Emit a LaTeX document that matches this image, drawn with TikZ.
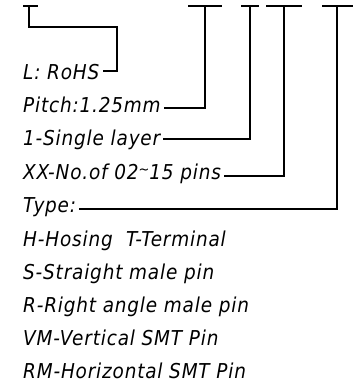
\documentclass[tikz,border=0pt]{standalone}
\usepackage{fontspec}
\setmainfont{DejaVu Sans}
\newfontfamily\isofont{DejaVu Sans Condensed Oblique}[LetterSpace=4]
\newcommand{\pnfont}{\isofont\fontsize{20.5}{21}\selectfont}
\newcommand{\pntilde}{\raisebox{5pt}{\scalebox{0.7}{\textasciitilde}}}
\tikzset{
    pn mark/.style={line width=1.3pt},
    pn lead/.style={line width=1.1pt, line join=miter},
    pn text/.style={anchor=base west, inner sep=0pt, font=\pnfont},
}

\begin{document}
\begin{tikzpicture}[x=1pt, y=-1pt]
    \useasboundingbox (0,0) rectangle (358,383);
    % Code marks (top)
    \coordinate (m0) at (29,6);
    \coordinate (m1) at (205,6);
    \coordinate (m2) at (250,6);
    \coordinate (m3) at (284,6);
    \coordinate (m4) at (337,6);
    \draw[pn mark] ([xshift=-6pt]m0) -- ([xshift=9pt]m0);
    \draw[pn mark] ([xshift=-17pt]m1) -- ([xshift=17pt]m1);
    \draw[pn mark] ([xshift=-9pt]m2) -- ([xshift=9pt]m2);
    \draw[pn mark] ([xshift=-18pt]m3) -- ([xshift=18pt]m3);
    \draw[pn mark] ([xshift=-15pt]m4) -- ([xshift=16pt]m4);
    % Code fields
    \node[pn text] (rohs)   at (23,79)  {L: RoHS};
    \node[pn text] (pitch)  at (23,112) {Pitch:1.25mm};
    \node[pn text] (layer)  at (23,145) {1-Single layer};
    \node[pn text] (pins)   at (23,179) {XX-No.of 02\pntilde 15 pins};
    \node[pn text] (type)   at (23,212) {Type:};
    % Type list
    \node[pn text] (th) at (23,246) {H-Hosing\ \ T-Terminal};
    \node[pn text] (ts) at (23,279) {S-Straight male pin};
    \node[pn text] (tr) at (23,312) {R-Right angle male pin};
    \node[pn text] (tv) at (23,345) {VM-Vertical SMT Pin};
    \node[pn text] (tm) at (23,378) {RM-Horizontal SMT Pin};
    % Leaders
    \coordinate (k0) at (117,27);
    \draw[pn lead] (m0) |- (k0) |- ([xshift=3pt, yshift=8pt]rohs.base east);
    \draw[pn lead] (m1) |- ([xshift=3pt, yshift=4pt]pitch.base east);
    \draw[pn lead] (m2) |- ([xshift=3pt, yshift=6pt]layer.base east);
    \draw[pn lead] (m3) |- ([xshift=3pt, yshift=3pt]pins.base east);
    \draw[pn lead] (m4) |- ([xshift=3pt, yshift=3pt]type.base east);
\end{tikzpicture}
\end{document}
